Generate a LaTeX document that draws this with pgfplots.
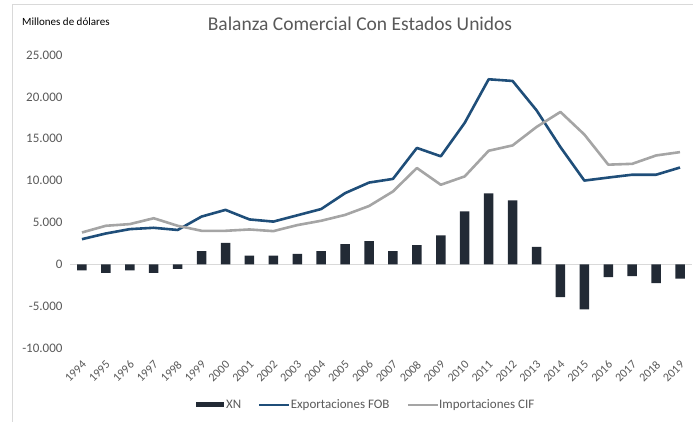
\documentclass[border=0pt]{standalone}
\usepackage{pgfplots}
\pgfplotsset{compat=1.18}
\usepackage{pgfplotstable}
\usepackage{fontspec}
\setmainfont{Carlito}
\definecolor{barc}{HTML}{222A35}
\definecolor{expc}{HTML}{1F4E79}
\definecolor{impc}{HTML}{A5A5A5}
\definecolor{txtc}{HTML}{595959}
\definecolor{framec}{HTML}{D9D9D9}

\pgfplotstableread{
x xn exp imp
0 -720 3000 3800
1 -1040 3680 4600
2 -720 4200 4800
3 -1040 4360 5500
4 -560 4100 4600
5 1560 5700 4000
6 2560 6500 4000
7 1040 5360 4160
8 1040 5100 3960
9 1240 5850 4680
10 1560 6600 5200
11 2400 8500 5900
12 2760 9760 6960
13 1560 10200 8700
14 2280 13900 11500
15 3440 12900 9500
16 6320 16900 10500
17 8480 22100 13560
18 7640 21900 14200
19 2080 18400 16400
20 -3920 14000 18200
21 -5400 10000 15500
22 -1520 10360 11900
23 -1400 10700 12000
24 -2240 10700 13000
25 -1720 11560 13400
}\data

\begin{document}
\begin{tikzpicture}[x=1pt,y=1pt]
\useasboundingbox (0,0) rectangle (693,421);
\draw[color=framec, line width=0.8pt] (12,-10) -- (12,417) -- (710,417);
\node[text=txtc, font=\fontsize{19.5}{22}\selectfont] at (360,397) {Balanza Comercial Con Estados Unidos};
\node[anchor=west, inner sep=0pt, font=\fontsize{11}{13}\selectfont] at (22,399) {Millones de dólares};
\begin{axis}[
  at={(70pt,73pt)}, anchor=south west, scale only axis,
  width=622pt, height=293pt,
  xmin=-0.5, xmax=25.5, ymin=-10000, ymax=25000,
  scaled y ticks=false,
  axis line style={draw=none}, tick style={draw=none},
  /pgf/number format/assume math mode=true,
  xtick={0,...,25},
  xticklabels={1994,1995,1996,1997,1998,1999,2000,2001,2002,2003,2004,2005,2006,2007,2008,2009,2010,2011,2012,2013,2014,2015,2016,2017,2018,2019},
  xticklabel style={xshift=2.3pt, yshift=-14.7pt, rotate=45, anchor=east, inner sep=0pt, font=\fontsize{12}{14}\selectfont, text=txtc},
  ytick={-10000,-5000,0,5000,10000,15000,20000,25000},
  yticklabels={-10.000,-5.000,0,5.000,10.000,15.000,20.000,25.000},
  yticklabel style={font=\fontsize{13}{15}\selectfont, text=txtc, xshift=-4pt},
  extra y ticks={0}, extra y tick labels={},
  extra y tick style={grid=major, major grid style={color=framec, line width=0.9pt}},
  legend columns=3,
  legend style={at={(0.2026,-0.1945)}, anchor=west, draw=none, fill=none,
    inner sep=0pt, outer sep=0pt,
    nodes={inner sep=0pt, outer sep=0pt},
    font=\fontsize{13}{15}\selectfont, text=txtc,
    /tikz/every even column/.append style={column sep=17pt}},
  legend cell align=left,
]
\addplot[ybar, bar width=9.5pt, bar shift=0pt, fill=barc, draw=none,
  legend image code/.code={\fill[barc] (0pt,-2.5pt) rectangle (27.5pt,2.5pt); \path (30pt,0pt);}]
  table[x=x, y=xn] {\data};
\addlegendentry{XN}
\addplot[color=expc, line width=2.6pt, line join=round, mark=none,
  legend image code/.code={\draw[expc, line width=2.6pt] (0pt,0pt) -- (30pt,0pt);}]
  table[x=x, y=exp] {\data};
\addlegendentry{Exportaciones FOB}
\addplot[color=impc, line width=2.6pt, line join=round, mark=none,
  legend image code/.code={\draw[impc, line width=2.6pt] (0pt,0pt) -- (30pt,0pt);}]
  table[x=x, y=imp] {\data};
\addlegendentry{Importaciones CIF}
\end{axis}
\end{tikzpicture}
\end{document}
